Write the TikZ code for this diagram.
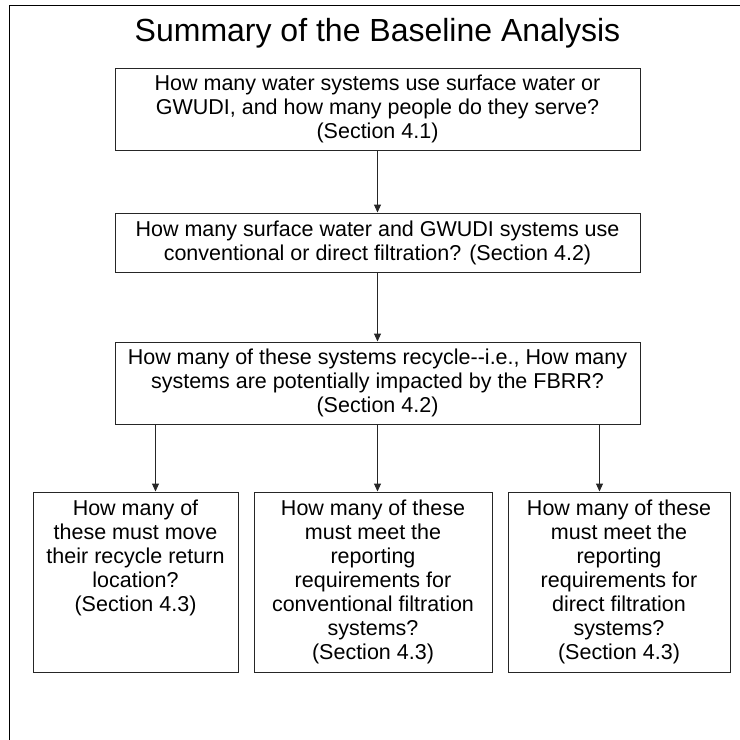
\documentclass[tikz,border=0pt]{standalone}
\usepackage{fontspec}
\setmainfont{Liberation Sans}
\usetikzlibrary{arrows.meta}
\tikzset{
	qbox/.style={draw=black!85, line width=1pt, align=center, inner sep=0pt, font=\fontsize{21.5}{24}\selectfont},
	arr/.style={draw=black!85, line width=1pt, -{Triangle[length=8pt,width=7pt]}}
}
\begin{document}
\begin{tikzpicture}[x=1pt,y=-1pt]
		\useasboundingbox (0,0) rectangle (740,740);
		\draw[black, line width=1pt] (9,745) -- (9,5) -- (745,5);
		
		\node[anchor=base, font=\fontsize{32}{38}\selectfont] (title) at (377.5,41) {Summary of the Baseline Analysis};
		
		\node[qbox, minimum width=525pt, minimum height=82pt] (b1) at (377.5,109) {How many water systems use surface water or\\GWUDI, and how many people do they serve?\\(Section 4.1)};
		\node[qbox, minimum width=525pt, minimum height=59pt] (b2) at (377.5,242.5) {How many surface water and GWUDI systems use\\conventional or direct filtration? (Section 4.2)};
		\node[qbox, minimum width=525pt, minimum height=82pt] (b3) at (377.5,383) {How many of these systems recycle-{}-i.e., How many\\systems are potentially impacted by the FBRR?\\(Section 4.2)};
		
		\node[qbox, minimum width=205pt, minimum height=180pt] (b4) at (135.5,582) {How many of\\these must move\\their recycle return\\location?\\(Section 4.3)\\\vphantom{(}\\\vphantom{(}};
		\node[qbox, minimum width=238pt, minimum height=180pt] (b5) at (373,582) {How many of these\\must meet the\\reporting\\requirements for\\conventional filtration\\systems?\\(Section 4.3)};
		\node[qbox, minimum width=222pt, minimum height=180pt] (b6) at (619,582) {How many of these\\must meet the\\reporting\\requirements for\\direct filtration\\systems?\\(Section 4.3)};
		
		\draw[arr] (b1.south) -- (b2.north);
		\draw[arr] (b2.south) -- (b3.north);
		\draw[arr] ([xshift=-222pt]b3.south) -- ([xshift=-222pt]b3.south |- b4.north);
		\draw[arr] (b3.south) -- (b3.south |- b5.north);
		\draw[arr] ([xshift=222pt]b3.south) -- ([xshift=222pt]b3.south |- b6.north);
	\end{tikzpicture}
\end{document}
